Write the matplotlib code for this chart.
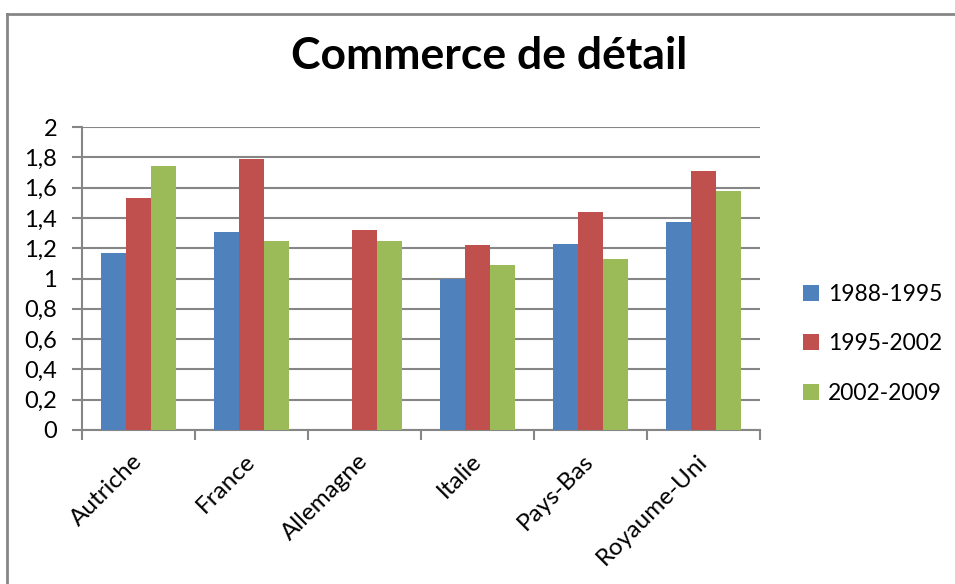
import numpy as np
import matplotlib.pyplot as plt
from matplotlib.lines import Line2D
from matplotlib.ticker import FuncFormatter

plt.rcParams['font.family'] = ['Lato', 'DejaVu Sans']

# Données
pays = ["Autriche", "France", "Allemagne", "Italie", "Pays-Bas", "Royaume-Uni"]
periodes = ["1988-1995", "1995-2002", "2002-2009"]
v_1988_1995 = [1.17, 1.31, 0.0, 1.00, 1.23, 1.37]
v_1995_2002 = [1.53, 1.79, 1.32, 1.22, 1.44, 1.71]
v_2002_2009 = [1.74, 1.25, 1.25, 1.09, 1.13, 1.58]
couleurs = ["#4F81BD", "#C0504D", "#9BBB59"]

series = [v_1988_1995, v_1995_2002, v_2002_2009]

fig = plt.figure(figsize=(9.55, 5.84), dpi=100)
ax = fig.add_axes([0.0859, 0.2637, 0.7099, 0.5188])

x = np.arange(len(pays))
largeur = 1 / 4.5
for i, (vals, nom, c) in enumerate(zip(series, periodes, couleurs)):
    ax.bar(x + (i - 1) * largeur, vals, largeur, color=c, label=nom, zorder=3)

gris = "#868686"
ax.set_xlim(-0.5, len(pays) - 0.5)
ax.set_ylim(0, 2)
ax.set_yticks(np.arange(0, 2.01, 0.2))
ax.yaxis.set_major_formatter(FuncFormatter(lambda v, p: f"{v:.1f}".replace(".", ",").replace(",0", "")))
ax.grid(axis="y", color=gris, linewidth=1.5, zorder=0)
ax.tick_params(axis="y", length=7, width=1.5, color=gris, labelsize=17, pad=11)

# graduations entre les catégories
ax.set_xticks(np.arange(-0.5, len(pays)), minor=False)
ax.set_xticklabels([])
ax.set_xticks(x, minor=True)
ax.set_xticklabels(pays, minor=True, rotation=45, ha="right", va="center",
                   rotation_mode="anchor", fontsize=17.5)
ax.tick_params(axis="x", which="major", length=7, width=1.5, color=gris)
ax.tick_params(axis="x", which="minor", length=0, pad=20)
for lab in ax.get_xticklabels(minor=True):
    lab.set_x(lab.get_position()[0] + 0.06)

for s in ["top", "right"]:
    ax.spines[s].set_visible(False)
for s in ["left", "bottom"]:
    ax.spines[s].set_color(gris)
    ax.spines[s].set_linewidth(1.5)

fig.text(0.512, 0.882, "Commerce de détail", fontsize=32, fontweight="bold", ha="center", va="baseline")

leg = ax.legend(loc="center left", bbox_to_anchor=(1.033, 0.284), frameon=False, fontsize=16.5,
                handlelength=0.7, handleheight=0.7, handletextpad=0.4, labelspacing=1.25)

# cadre du graphique
fig.add_artist(Line2D([0.0073, 0.0073], [0, 0.976], color=gris, linewidth=2))
fig.add_artist(Line2D([0.0073, 1], [0.976, 0.976], color=gris, linewidth=2))

plt.savefig("out.png", dpi=100)
